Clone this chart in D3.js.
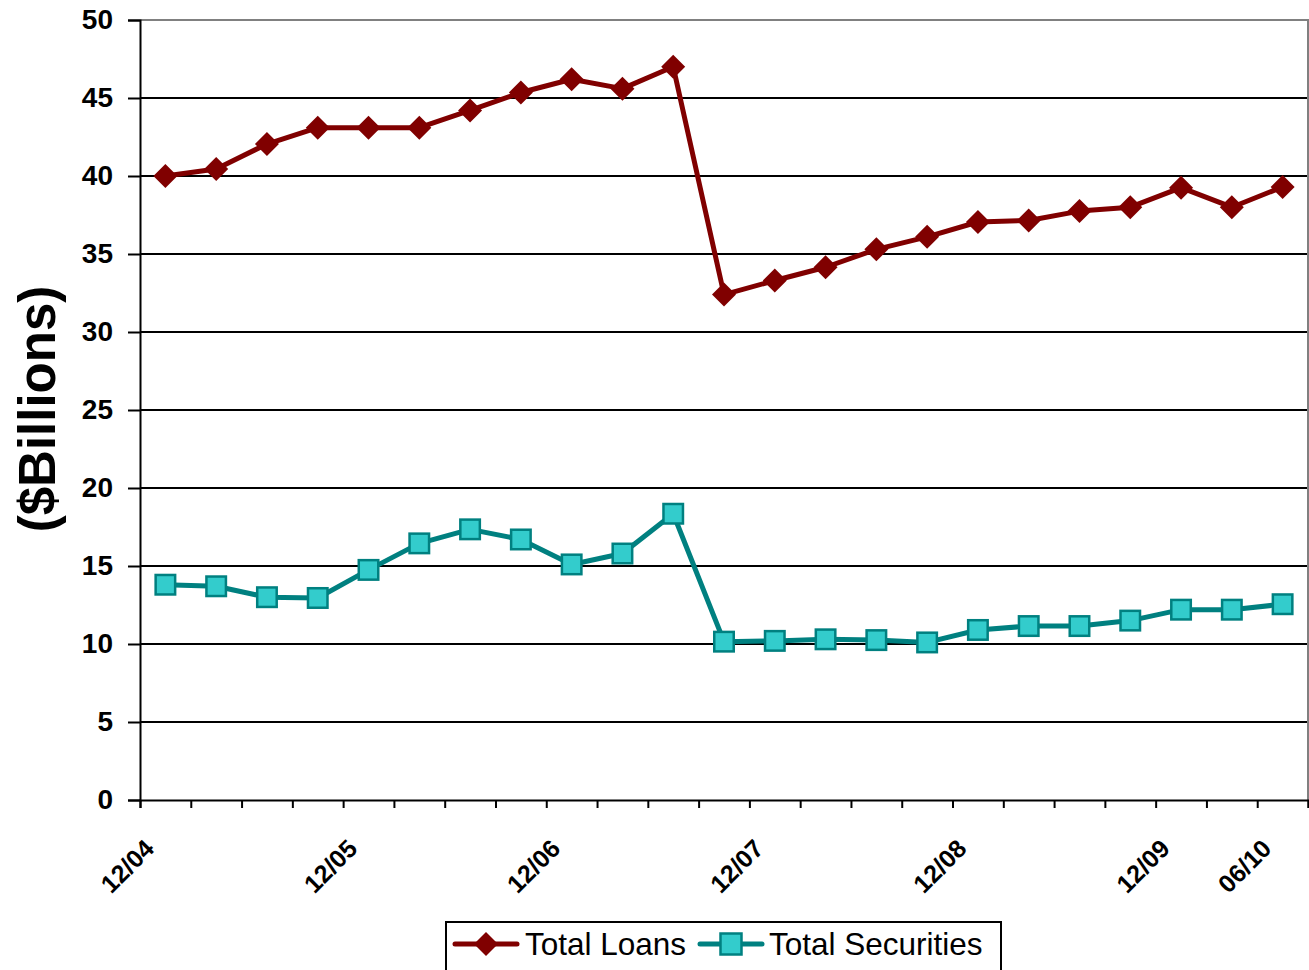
<!DOCTYPE html>
<html>
<head>
<meta charset="utf-8">
<script src="https://cdn.jsdelivr.net/npm/d3@7"></script>
<style>
  html, body { margin: 0; padding: 0; background: #fff; }
  svg { display: block; font-family: Arial, "Liberation Sans", sans-serif; }
</style>
</head>
<body>
<svg id="chart" width="1309" height="970"></svg>
<script>
// Quarterly balance-sheet totals, $ billions
const categories = ['12/04','03/05','06/05','09/05','12/05','03/06','06/06','09/06','12/06','03/07','06/07','09/07',
                    '12/07','03/08','06/08','09/08','12/08','03/09','06/09','09/09','12/09','03/10','06/10'];
const totalLoans = [40.0, 40.45, 42.05, 43.1, 43.1, 43.1, 44.2, 45.35, 46.2, 45.6, 47.0, 32.4,
                    33.3, 34.15, 35.3, 36.1, 37.05, 37.15, 37.75, 38.0, 39.25, 38.0, 39.3];
const totalSecurities = [13.8, 13.7, 13.0, 12.95, 14.75, 16.45, 17.35, 16.7, 15.1, 15.8, 18.35, 10.15,
                         10.2, 10.3, 10.25, 10.1, 10.9, 11.15, 11.15, 11.5, 12.2, 12.2, 12.55];
const yTicks = [0, 5, 10, 15, 20, 25, 30, 35, 40, 45, 50];
const xTickLabels = ['12/04','12/05','12/06','12/07','12/08','12/09','06/10'];
const seriesNames = ['Total Loans', 'Total Securities'];

const svg = d3.select('#chart');
const plot = { left: 140, right: 1308, top: 20, bottom: 800 };

const x = d3.scalePoint().domain(categories).range([plot.left, plot.right]).padding(0.5);
const xEdge = d3.scaleLinear().domain([0, categories.length]).range([plot.left, plot.right]);
const y = d3.scaleLinear().domain([0, 50]).range([plot.bottom, plot.top]);

// horizontal gridlines
svg.append('g').selectAll('line')
  .data(yTicks.filter(v => v > 0 && v < 50))
  .join('line')
  .attr('x1', plot.left).attr('x2', plot.right)
  .attr('y1', d => y(d)).attr('y2', d => y(d))
  .attr('stroke', '#000').attr('stroke-width', 2);

// plot-area border (top and right)
svg.append('path')
  .attr('d', `M${plot.left},${y(50)}H${plot.right}V${plot.bottom}`)
  .attr('fill', 'none').attr('stroke', '#808080').attr('stroke-width', 2);

// y axis
const yAxis = svg.append('g')
  .attr('transform', `translate(${plot.left},0)`)
  .call(d3.axisLeft(y).tickValues(yTicks).tickSize(12).tickPadding(15).tickFormat(d3.format('d')));
yAxis.select('.domain').attr('stroke', '#000').attr('stroke-width', 2);
yAxis.selectAll('.tick line').attr('stroke', '#000').attr('stroke-width', 2);
yAxis.selectAll('.tick text')
  .attr('font-size', 28).attr('font-weight', 'bold').attr('fill', '#000')
  .attr('font-family', 'Arial, "Liberation Sans", sans-serif');

// x axis: tick marks at category boundaries
const xAxis = svg.append('g')
  .attr('transform', `translate(0,${plot.bottom})`)
  .call(d3.axisBottom(xEdge).tickValues(d3.range(categories.length + 1)).tickSize(8).tickFormat(''));
xAxis.select('.domain').attr('stroke', '#000').attr('stroke-width', 2);
xAxis.selectAll('.tick line').attr('stroke', '#000').attr('stroke-width', 2);

// rotated category labels
svg.append('g').selectAll('text')
  .data(xTickLabels)
  .join('text')
  .attr('transform', d => `translate(${x(d) - 16},${plot.bottom + 44}) rotate(-45)`)
  .attr('text-anchor', 'end')
  .attr('dy', '0.35em')
  .attr('font-size', 25).attr('font-weight', 'bold').attr('fill', '#000')
  .text(d => d);

// y axis title
svg.append('text')
  .attr('transform', 'translate(37,409) rotate(-90)')
  .attr('text-anchor', 'middle')
  .attr('dy', '0.35em')
  .attr('font-size', 51).attr('font-weight', 'bold').attr('fill', '#000')
  .text('($Billions)');

const loanColor = '#800000';
const secLine = '#008080';
const secFill = '#33CCCC';

const line = d3.line().x((d, i) => x(categories[i])).y(d => y(d));

function diamondPath(s) {
  return `M0,${-s}L${s},0L0,${s}L${-s},0Z`;
}

// Total Loans
svg.append('path').datum(totalLoans)
  .attr('d', line).attr('fill', 'none')
  .attr('stroke', loanColor).attr('stroke-width', 5).attr('stroke-linejoin', 'round');
svg.append('g').selectAll('path')
  .data(totalLoans)
  .join('path')
  .attr('transform', (d, i) => `translate(${x(categories[i])},${y(d)})`)
  .attr('d', diamondPath(12))
  .attr('fill', loanColor);

// Total Securities
svg.append('path').datum(totalSecurities)
  .attr('d', line).attr('fill', 'none')
  .attr('stroke', secLine).attr('stroke-width', 5).attr('stroke-linejoin', 'round');
const sq = 19.5;
svg.append('g').selectAll('rect')
  .data(totalSecurities)
  .join('rect')
  .attr('x', (d, i) => x(categories[i]) - sq / 2)
  .attr('y', d => y(d) - sq / 2)
  .attr('width', sq).attr('height', sq)
  .attr('fill', secFill).attr('stroke', secLine).attr('stroke-width', 2.5);

// legend
const legend = svg.append('g');
legend.append('rect')
  .attr('x', 446).attr('y', 922).attr('width', 555).attr('height', 60)
  .attr('fill', '#fff').attr('stroke', '#000').attr('stroke-width', 2);

const legendItems = [
  { name: seriesNames[0], x0: 455, textX: 525, kind: 'diamond' },
  { name: seriesNames[1], x0: 700, textX: 769, kind: 'square' }
];
const ly = 944;
legendItems.forEach(it => {
  const color = it.kind === 'diamond' ? loanColor : secLine;
  legend.append('line')
    .attr('x1', it.x0).attr('x2', it.x0 + 62).attr('y1', ly).attr('y2', ly)
    .attr('stroke', color).attr('stroke-width', 5).attr('stroke-linecap', 'round');
  if (it.kind === 'diamond') {
    legend.append('path')
      .attr('transform', `translate(${it.x0 + 31},${ly})`)
      .attr('d', diamondPath(12)).attr('fill', loanColor);
  } else {
    legend.append('rect')
      .attr('x', it.x0 + 31 - 10.5).attr('y', ly - 10.5).attr('width', 21).attr('height', 21)
      .attr('fill', secFill).attr('stroke', secLine).attr('stroke-width', 2.5);
  }
  legend.append('text')
    .attr('x', it.textX).attr('y', ly).attr('dy', '0.36em')
    .attr('font-size', 31.5).attr('fill', '#000')
    .text(it.name);
});
</script>
</body>
</html>
